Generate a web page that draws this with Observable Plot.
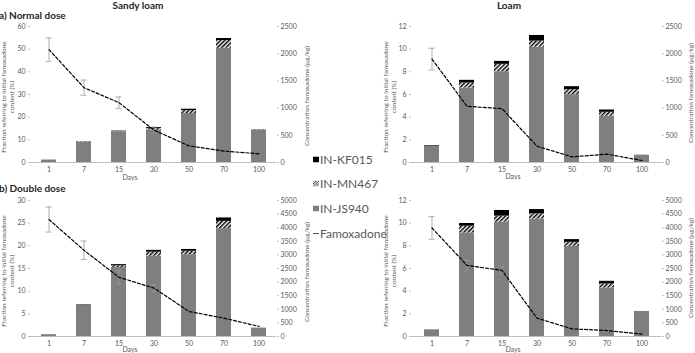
<!DOCTYPE html>
<html><head><meta charset="utf-8">
<script src="https://cdn.jsdelivr.net/npm/d3@7"></script>
<script src="https://cdn.jsdelivr.net/npm/@observablehq/plot@0.6"></script>
<style>
body{margin:0;background:#fff;width:695px;height:353px;overflow:hidden;position:relative;font-family:Lato,"Open Sans",sans-serif;}
.abs{position:absolute;white-space:nowrap;}
.title{font-weight:bold;font-size:10px;color:#262626;transform:translate(0,-50%);}
.ctitle{font-weight:bold;font-size:10px;color:#262626;transform:translate(-50%,-50%);}
.rot{position:absolute;white-space:nowrap;transform:translate(-50%,-50%) rotate(-90deg);text-align:center;font-size:6.5px;color:#595959;line-height:8px;}
.days{position:absolute;font-size:7px;color:#595959;transform:translate(-50%,-50%);}
.leg{position:absolute;left:313px;font-size:12px;color:#595959;transform:translate(0,-50%);display:flex;align-items:center;white-space:nowrap;}
.leg svg{margin-right:1px;}
</style></head><body>
<script>
const days = ["1","7","15","30","50","70","100"];
const seriesNames = ["IN-JS940","IN-MN467","IN-KF015"];
const legendNames = ["IN-KF015","IN-MN467","IN-JS940","Famoxadone"];

// a) Normal dose, Sandy loam (fraction of initial famoxadone, %)
const sandyNormalJS940 = [0.9, 9.0, 13.6, 14.4, 21.6, 50.4, 14.1];
const sandyNormalMN467 = [0.0, 0.15, 0.15, 0.55, 1.3, 3.4, 0.2];
const sandyNormalKF015 = [0.1, 0.05, 0.15, 0.45, 0.6, 0.9, 0.1];
// famoxadone concentration (µg/kg) and error
const sandyNormalFamox = [2075, 1375, 1100, 595, 305, 210, 160];
const sandyNormalFamoxErr = [215, 140, 105, 55, 0, 0, 0];

// a) Normal dose, Loam
const loamNormalJS940 = [1.45, 6.57, 8.01, 10.18, 5.99, 4.08, 0.65];
const loamNormalMN467 = [0.0, 0.44, 0.65, 0.53, 0.44, 0.35, 0.0];
const loamNormalKF015 = [0.05, 0.24, 0.26, 0.5, 0.26, 0.2, 0.0];
const loamNormalFamox = [1900, 1033, 990, 300, 104, 153, 37];
const loamNormalFamoxErr = [200, 0, 0, 0, 0, 0, 0];

// b) Double dose, Sandy loam
const sandyDoubleJS940 = [0.4, 6.9, 15.2, 17.7, 18.05, 23.8, 1.85];
const sandyDoubleMN467 = [0.0, 0.0, 0.4, 0.9, 0.75, 1.6, 0.0];
const sandyDoubleKF015 = [0.0, 0.1, 0.25, 0.4, 0.4, 0.75, 0.0];
const sandyDoubleFamox = [4300, 3170, 2175, 1780, 920, 675, 370];
const sandyDoubleFamoxErr = [460, 340, 245, 130, 0, 0, 0];

// b) Double dose, Loam
const loamDoubleJS940 = [0.59, 9.14, 10.09, 10.38, 7.96, 4.28, 2.21];
const loamDoubleMN467 = [0.0, 0.59, 0.53, 0.44, 0.35, 0.35, 0.0];
const loamDoubleKF015 = [0.0, 0.24, 0.5, 0.38, 0.24, 0.24, 0.0];
const loamDoubleFamox = [3990, 2615, 2430, 675, 280, 220, 85];
const loamDoubleFamoxErr = [415, 195, 130, 0, 0, 0, 0];

const ticks60 = [0,10,20,30,40,50,60];
const ticks30 = [0,5,10,15,20,25,30];
const ticks12 = [0,2,4,6,8,10,12];
const ticks2500 = [0,500,1000,1500,2000,2500];
const ticks5000 = [0,500,1000,1500,2000,2500,3000,3500,4000,4500,5000];

const gray = "#7f7f7f";
const axisGray = "#bfbfbf";

function panel(cfg) {
  const {id, left, top, width, height, mL, mR, mT, mB, js, mn, kf, famox, err, yMax, yTicks, rMax, rTicks} = cfg;
  const rows = [];
  days.forEach((d, i) => {
    rows.push({day: d, series: seriesNames[0], value: js[i]});
    rows.push({day: d, series: seriesNames[1], value: mn[i]});
    rows.push({day: d, series: seriesNames[2], value: kf[i]});
  });
  const k = yMax / rMax;
  const line = days.map((d, i) => ({day: d, v: famox[i] * k, lo: (famox[i] - err[i]) * k, hi: (famox[i] + err[i]) * k, e: err[i]}));
  const errRows = line.filter(r => r.e > 0);
  const hatchId = "hatch-" + id;
  const defs = () => {
    const g = d3.create("svg:defs");
    const p = g.append("pattern").attr("id", hatchId).attr("width", 3).attr("height", 3)
      .attr("patternUnits", "userSpaceOnUse").attr("patternTransform", "rotate(45)");
    p.append("rect").attr("width", 3).attr("height", 3).attr("fill", "#fff");
    p.append("line").attr("x1", 0.75).attr("y1", 0).attr("x2", 0.75).attr("y2", 3).attr("stroke", "#000").attr("stroke-width", 1.5);
    return g.node();
  };
  const chart = Plot.plot({
    width, height, marginLeft: mL, marginRight: mR, marginTop: mT, marginBottom: mB,
    style: {fontFamily: "Lato, sans-serif", fontSize: "7px", color: "#595959", background: "transparent", overflow: "visible"},
    x: {type: "band", domain: days, paddingInner: 0.58, paddingOuter: 0.29},
    y: {domain: [0, yMax]},
    color: {domain: seriesNames, range: [gray, `url(#${hatchId})`, "#000"]},
    marks: [
      defs,
      Plot.barY(rows, {x: "day", y: "value", fill: "series"}),
      Plot.ruleY([0], {stroke: axisGray}),
      Plot.axisX({tickSize: 0, tickPadding: 5, label: null}),
      Plot.axisY(yTicks, {anchor: "left", tickSize: 2, tickPadding: 3, stroke: axisGray, line: true, label: null}),
      Plot.axisY(rTicks.map(v => v * k), {anchor: "right", tickSize: 2, tickPadding: 2, stroke: axisGray, line: true, label: null, tickFormat: d => String(Math.round(d / k))}),
      Plot.ruleX(errRows, {x: "day", y1: "lo", y2: "hi", stroke: "#999", strokeWidth: 0.8}),
      Plot.tickY(errRows, {x: "day", y: "lo", stroke: "#999", strokeWidth: 0.8, insetLeft: 4.5, insetRight: 4.5}),
      Plot.tickY(errRows, {x: "day", y: "hi", stroke: "#999", strokeWidth: 0.8, insetLeft: 4.5, insetRight: 4.5}),
      Plot.lineY(line, {x: "day", y: "v", stroke: "#000", strokeWidth: 1.2, strokeDasharray: "3,2"})
    ]
  });
  chart.style.position = "absolute";
  chart.style.left = left + "px";
  chart.style.top = top + "px";
  document.body.appendChild(chart);
}

// Sandy loam: plot area x 30..276 ; Loam: plot area x 411..661
panel({id: "an", left: 0, top: 18, width: 300, height: 162, mL: 30, mR: 24, mT: 8, mB: 18,
  js: sandyNormalJS940, mn: sandyNormalMN467, kf: sandyNormalKF015, famox: sandyNormalFamox, err: sandyNormalFamoxErr,
  yMax: 60, yTicks: ticks60, rMax: 2500, rTicks: ticks2500});
panel({id: "al", left: 380, top: 18, width: 310, height: 162, mL: 31, mR: 29, mT: 8, mB: 18,
  js: loamNormalJS940, mn: loamNormalMN467, kf: loamNormalKF015, famox: loamNormalFamox, err: loamNormalFamoxErr,
  yMax: 12, yTicks: ticks12, rMax: 2500, rTicks: ticks2500});
panel({id: "bn", left: 0, top: 192, width: 300, height: 162, mL: 30, mR: 24, mT: 8, mB: 18,
  js: sandyDoubleJS940, mn: sandyDoubleMN467, kf: sandyDoubleKF015, famox: sandyDoubleFamox, err: sandyDoubleFamoxErr,
  yMax: 30, yTicks: ticks30, rMax: 5000, rTicks: ticks5000});
panel({id: "bl", left: 380, top: 192, width: 310, height: 162, mL: 31, mR: 29, mT: 8, mB: 18,
  js: loamDoubleJS940, mn: loamDoubleMN467, kf: loamDoubleKF015, famox: loamDoubleFamox, err: loamDoubleFamoxErr,
  yMax: 12, yTicks: ticks12, rMax: 5000, rTicks: ticks5000});

function addText(cls, text, x, y) {
  const el = document.createElement("div");
  el.className = cls;
  el.style.left = x + "px";
  el.style.top = y + "px";
  el.innerHTML = text;
  document.body.appendChild(el);
  return el;
}
addText("abs ctitle", "Sandy loam", 138, 5);
addText("abs ctitle", "Loam", 509, 5);
addText("abs title", "a) Normal dose", -1, 15);
addText("abs title", "b) Double dose", -1, 188);

const leftTitle = "Fraction referring to initial famoxadone<br>content (%)";
const rightTitle = "Concentration famoxadone (µg/kg)";
addText("rot", leftTitle, 8, 97);
addText("rot", leftTitle, 390, 97);
addText("rot", rightTitle, 307, 96);
addText("rot", rightTitle, 691, 93);
addText("rot", leftTitle, 8, 271);
addText("rot", leftTitle, 390, 271);
addText("rot", rightTitle, 307, 272);
addText("rot", rightTitle, 691, 268);
addText("days", "Days", 130, 177);
addText("days", "Days", 513, 176);
addText("days", "Days", 130, 349);
addText("days", "Days", 513, 349);

// legend
const legY = [159, 183, 208, 233];
const legSwatch = [
  '<svg width="6" height="6"><rect width="6" height="6" fill="#000"/></svg>',
  '<svg width="6" height="6"><defs><pattern id="hatch-leg" width="2" height="2" patternUnits="userSpaceOnUse" patternTransform="rotate(45)"><rect width="2" height="2" fill="#fff"/><line x1="0.5" y1="0" x2="0.5" y2="2" stroke="#555" stroke-width="1"/></pattern></defs><rect width="6" height="6" fill="url(#hatch-leg)"/></svg>',
  '<svg width="6" height="6"><rect width="6" height="6" fill="' + gray + '"/></svg>',
  '<svg width="6" height="6"><line x1="0" y1="3" x2="6" y2="3" stroke="#595959" stroke-width="1"/></svg>'
];
legendNames.forEach((n, i) => {
  addText("leg", legSwatch[i] + "<span>" + n + "</span>", 313, legY[i]);
});
</script>
</body></html>
